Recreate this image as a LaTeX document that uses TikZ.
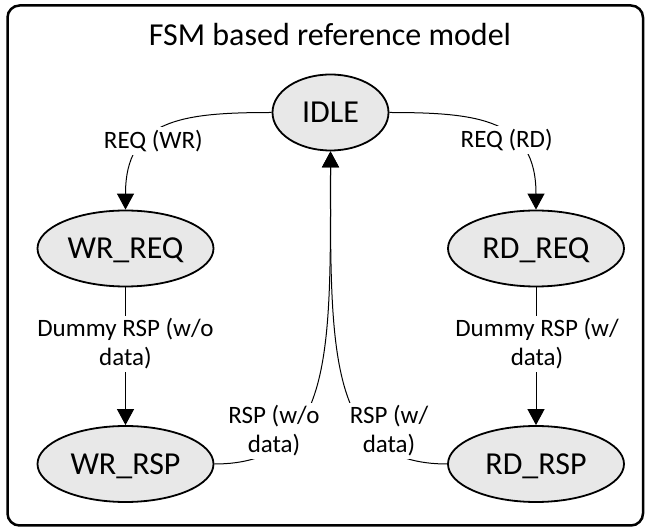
\documentclass[tikz,border=0pt]{standalone}
\usepackage{fontspec}
\setmainfont{Carlito}
\usetikzlibrary{arrows.meta,shapes.geometric}
\definecolor{stategray}{RGB}{232,232,232}
\begin{document}
\begin{tikzpicture}[x=1pt,y=-1pt,
  state/.style={ellipse, draw, line width=1.8pt, fill=stategray,
    minimum width=176pt, minimum height=76pt, inner sep=0pt,
    font=\fontsize{32}{38}\selectfont, text height=20.6pt, text depth=0pt},
  conn/.style={line width=1pt, -{Triangle[length=16pt,width=17pt]}},
  lbl/.style={fill=white, inner sep=3pt, align=center,
    font=\fontsize{25}{29}\selectfont},
  frame/.style={draw, line width=2.5pt, rounded corners=12pt}]
\useasboundingbox (0,0) rectangle (649,529);

% outer frame and title
\draw[frame] (7.5,5.5) rectangle (643,525.5);
\node[anchor=base, font=\fontsize{32}{38}\selectfont] (title) at (330,46) {FSM based reference model};

% states
\node[state, minimum width=116pt] (idle) at (330.5,112.5) {IDLE};
\node[state] (wrreq) at (125.5,248.5) {WR\_REQ};
\node[state] (rdreq) at (536,248.5) {RD\_REQ};
\node[state] (wrrsp) at (125.5,464) {WR\_RSP};
\node[state] (rdrsp) at (536,464) {RD\_RSP};

% transitions
\draw[conn] (idle.west) .. controls +(-90,0) and +(0,-90) .. (wrreq.north);
\draw[conn] (idle.east) .. controls +(90,0) and +(0,-90) .. (rdreq.north);
\draw[conn] (wrreq.south) -- (wrrsp.north);
\draw[conn] (rdreq.south) -- (rdrsp.north);
\draw[conn] (wrrsp.east) .. controls +(120,0) and +(0,200) .. (idle.south);
\draw[conn] (rdrsp.west) .. controls +(-120,0) and +(0,200) .. (idle.south);

% transition labels
\node[lbl] (lreqwr) at (153.4,141) {REQ (WR)};
\node[lbl] (lreqrd) at (506.7,140) {REQ (RD)};
\node[lbl] (ldumwr) at (125.4,344) {Dummy RSP (w/o\\data)};
\node[lbl] (ldumrd) at (537,344) {Dummy RSP (w/\\data)};
\node[lbl] (lrspwr) at (274,431) {RSP (w/o\\data)};
\node[lbl] (lrsprd) at (389,431) {RSP (w/\\data)};
\end{tikzpicture}
\end{document}
